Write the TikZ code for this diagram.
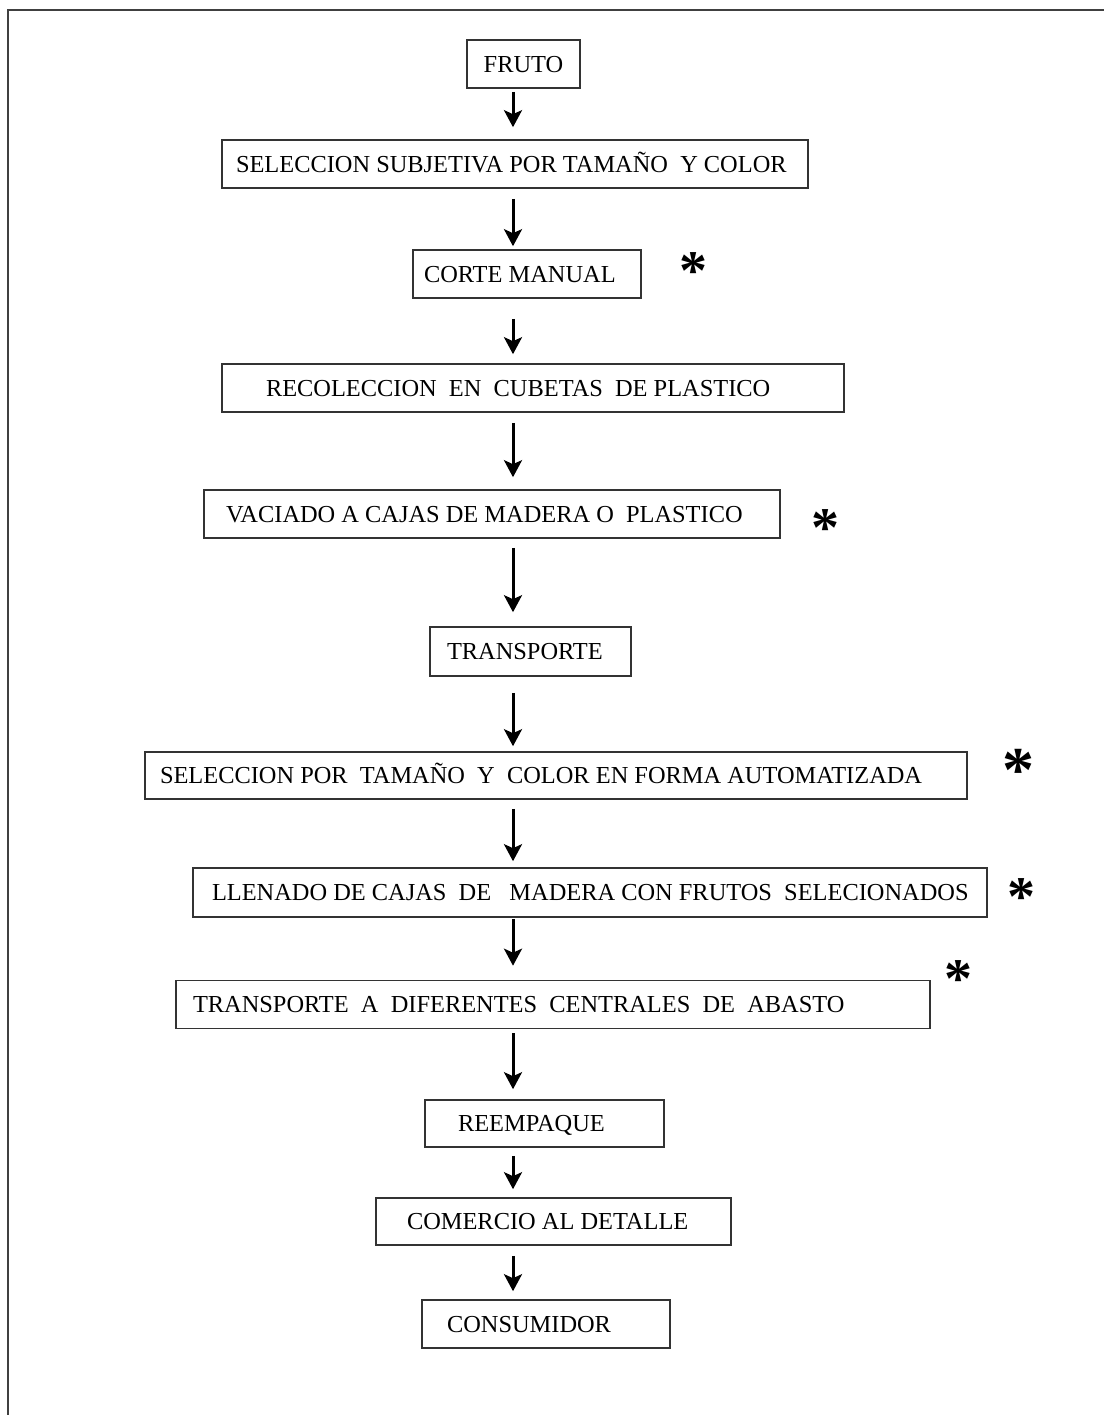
\documentclass[tikz,border=0pt]{standalone}
\usepackage{fontspec}
\setmainfont{Liberation Serif}
\usetikzlibrary{arrows.meta}
\tikzset{
  box/.style={draw=black!80, line width=0.8pt, inner sep=0pt, minimum height=24pt,
    text height=8pt, text depth=0pt, font=\fontsize{12.2}{14}\selectfont},
  flow/.style={line width=1.5pt, -{Stealth[length=8.5pt,width=9pt,inset=2pt]}},
  ast/.style={inner sep=0pt, font=\fontsize{28}{28}\selectfont\bfseries},
  bigast/.style={ast, font=\fontsize{32}{32}\selectfont\bfseries},
  frame/.style={draw=black!75, line width=0.8pt}
}
\newcommand\padtxt[3]{\hbox to #1pt{\hskip #2pt #3\hfil}}
\begin{document}
\begin{tikzpicture}[x=0.5pt,y=-0.5pt]
\useasboundingbox (0,0) rectangle (1104,1415);
\draw[frame] (8,1415) -- (8,10) -- (1104,10);
\coordinate (ax) at (513,0);
\node[box, minimum width=56.5pt] (b1) at (523.5,64) {FRUTO};
\node[box, minimum width=293pt] (b2) at (515,164) {\padtxt{293}{7}{SELECCION SUBJETIVA POR TAMAÑO\ \ Y COLOR}};
\node[box, minimum width=114pt] (b3) at (527,274) {\padtxt{114}{5.5}{CORTE MANUAL}};
\node[box, minimum width=311pt] (b4) at (533,388) {\padtxt{311}{22}{RECOLECCION\ \ EN\ \ CUBETAS\ \ DE PLASTICO}};
\node[box, minimum width=288pt] (b5) at (492,514) {\padtxt{288}{11}{VACIADO A CAJAS DE MADERA O\ \ PLASTICO}};
\node[box, minimum width=100.5pt, minimum height=24.5pt] (b6) at (530.5,651.5) {\padtxt{100.5}{8.5}{TRANSPORTE}};
\node[box, minimum width=411pt, minimum height=23.5pt] (b7) at (556,775.5) {\padtxt{411}{7.5}{SELECCION POR\ \ TAMAÑO\ \ Y\ \ COLOR EN FORMA AUTOMATIZADA}};
\node[box, minimum width=397pt, minimum height=24.5pt] (b8) at (590,892.5) {\padtxt{397}{9.5}{LLENADO DE CAJAS\ \ DE\ \ \ MADERA CON FRUTOS\ \ SELECIONADOS}};
\node[box, minimum width=377pt] (b9) at (553,1004.5) {\padtxt{377}{8.5}{TRANSPORTE\ \ A\ \ DIFERENTES\ \ CENTRALES\ \ DE\ \ ABASTO}};
\node[box, minimum width=119.5pt, minimum height=23.5pt] (b10) at (544.5,1123.5) {\padtxt{119.5}{16.5}{REEMPAQUE}};
\node[box, minimum width=177.5pt, minimum height=23.5pt] (b11) at (553.5,1221.5) {\padtxt{177.5}{15.5}{COMERCIO AL DETALLE}};
\node[box, minimum width=124pt] (b12) at (546,1324) {\padtxt{124}{12.5}{CONSUMIDOR}};
\node[ast] (s3) at (693,271) {*};
\node[ast] (s5) at (825,528) {*};
\node[bigast] (s7) at (1018,770) {*};
\node[ast] (s8) at (1021,897) {*};
\node[ast] (s9) at (958,979) {*};
\draw[flow, shorten <=1.5pt, shorten >=6pt] (b1.south -| ax) -- (b2.north -| ax);
\draw[flow, shorten <=5pt, shorten >=1.5pt] (b2.south -| ax) -- (b3.north -| ax);
\draw[flow, shorten <=10pt, shorten >=4.5pt] (b3.south -| ax) -- (b4.north -| ax);
\draw[flow, shorten <=5pt, shorten >=6pt] (b4.south -| ax) -- (b5.north -| ax);
\draw[flow, shorten <=4.5pt, shorten >=7pt] (b5.south -| ax) -- (b6.north -| ax);
\draw[flow, shorten <=8pt, shorten >=2.5pt] (b6.south -| ax) -- (b7.north -| ax);
\draw[flow, shorten <=4.5pt, shorten >=3pt] (b7.south -| ax) -- (b8.north -| ax);
\draw[flow, shorten <=0.5pt, shorten >=7pt] (b8.south -| ax) -- (b9.north -| ax);
\draw[flow, shorten <=2pt, shorten >=5pt] (b9.south -| ax) -- (b10.north -| ax);
\draw[flow, shorten <=4pt, shorten >=4pt] (b10.south -| ax) -- (b11.north -| ax);
\draw[flow, shorten <=5pt, shorten >=4pt] (b11.south -| ax) -- (b12.north -| ax);
\end{tikzpicture}
\end{document}
